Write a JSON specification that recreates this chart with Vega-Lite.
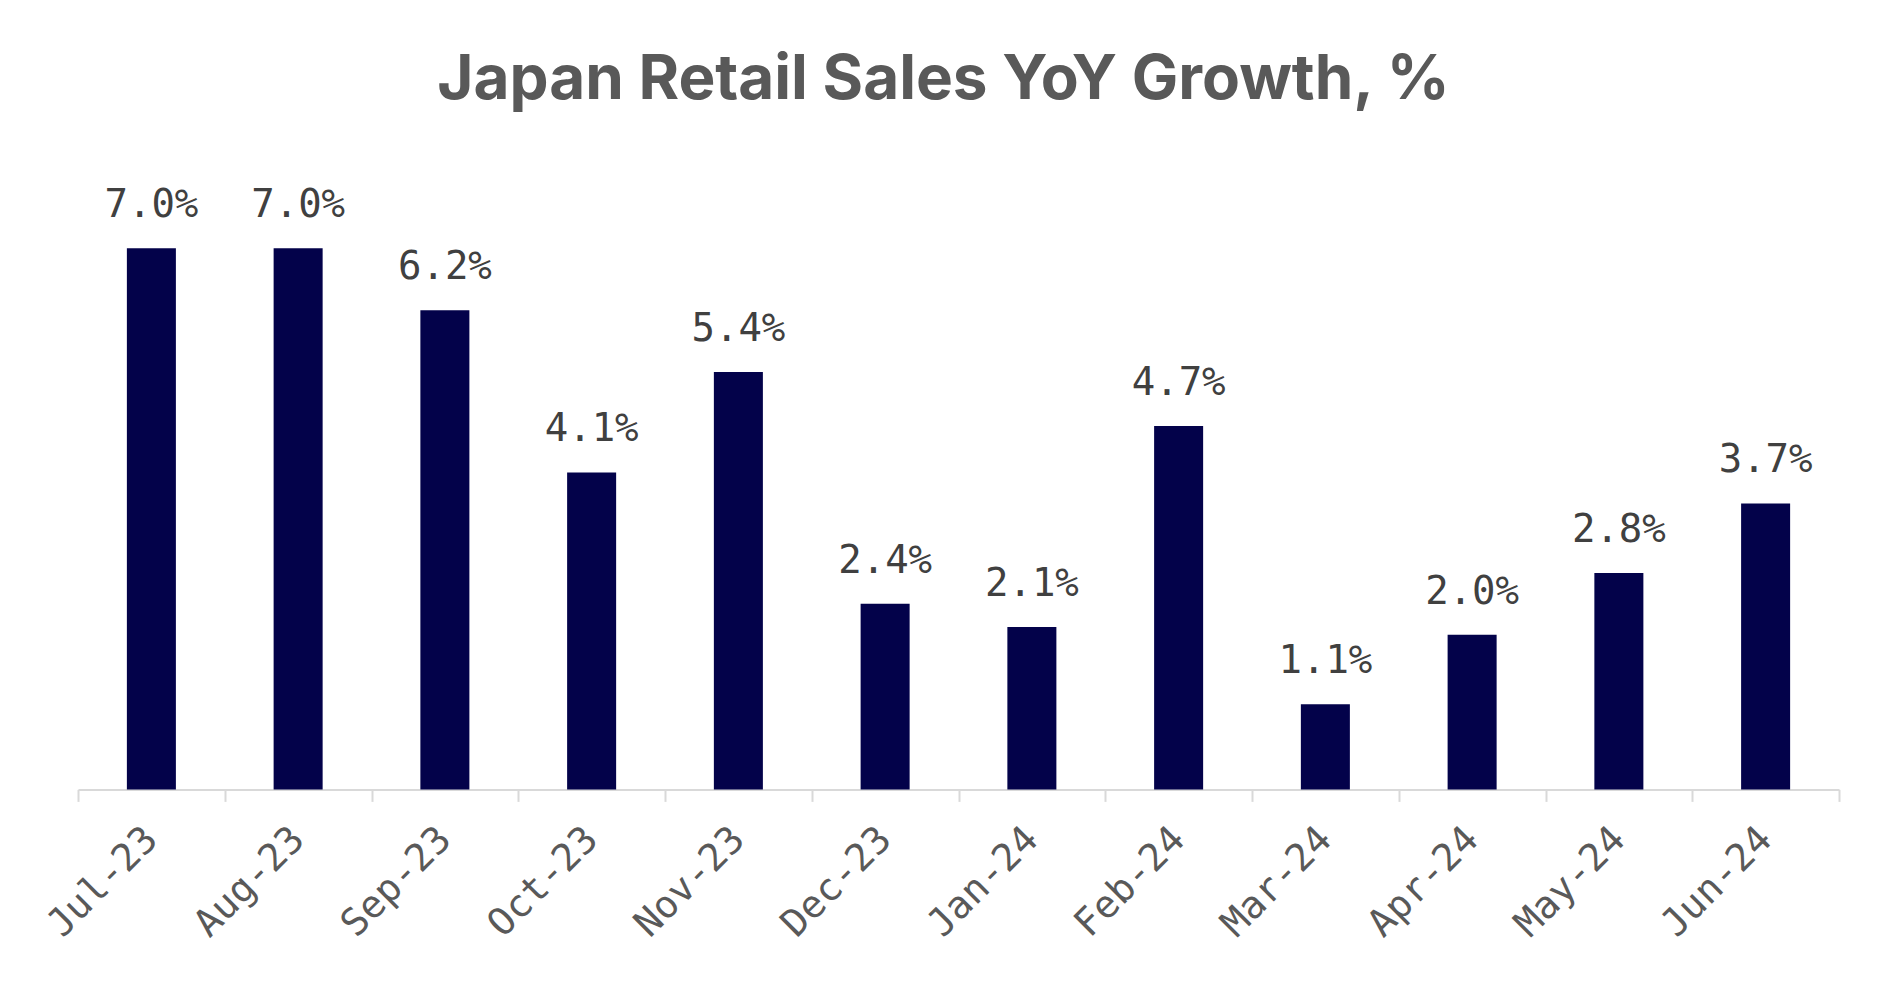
{
  "$schema": "https://vega.github.io/schema/vega-lite/v6.json",
  "width": 1761,
  "height": 618.4,
  "autosize": {"type": "none"},
  "padding": {"left": 78, "top": 171, "right": 58, "bottom": 200},
  "background": "white",
  "title": {
    "text": "Japan Retail Sales YoY Growth, %",
    "font": "Inter",
    "fontWeight": "bold",
    "fontSize": 62,
    "color": "#595959",
    "anchor": "middle",
    "baseline": "alphabetic",
    "offset": 10,
    "dx": -15
  },
  "data": {
    "values": [
      {"month": "Jul-23", "value": 7.0},
      {"month": "Aug-23", "value": 7.0},
      {"month": "Sep-23", "value": 6.2},
      {"month": "Oct-23", "value": 4.1},
      {"month": "Nov-23", "value": 5.4},
      {"month": "Dec-23", "value": 2.4},
      {"month": "Jan-24", "value": 2.1},
      {"month": "Feb-24", "value": 4.7},
      {"month": "Mar-24", "value": 1.1},
      {"month": "Apr-24", "value": 2.0},
      {"month": "May-24", "value": 2.8},
      {"month": "Jun-24", "value": 3.7}
    ]
  },
  "config": {"view": {"stroke": null}},
  "encoding": {
    "x": {
      "field": "month",
      "type": "nominal",
      "sort": null,
      "scale": {"paddingInner": 0, "paddingOuter": 0},
      "axis": {
        "title": null,
        "labelAngle": -45,
        "labelAlign": "right",
        "labelBaseline": "middle",
        "labelFont": "DejaVu Sans Mono",
        "labelFontSize": 38,
        "labelColor": "#595959",
        "labelPadding": 32,
        "domainColor": "#d9d9d9",
        "domainWidth": 2,
        "tickColor": "#d9d9d9",
        "tickWidth": 2,
        "tickSize": 12,
        "tickBand": "extent",
        "grid": false
      }
    },
    "y": {
      "field": "value",
      "type": "quantitative",
      "scale": {"domain": [0, 8], "nice": false},
      "axis": null
    }
  },
  "layer": [
    {
      "mark": {"type": "bar", "color": "#03024a", "width": {"band": 0.334}}
    },
    {
      "mark": {
        "type": "text",
        "font": "DejaVu Sans Mono",
        "fontSize": 39,
        "color": "#404040",
        "baseline": "alphabetic",
        "dy": -31,
        "text": {"expr": "format(datum.value, '.1f') + '%'"}
      }
    }
  ]
}
